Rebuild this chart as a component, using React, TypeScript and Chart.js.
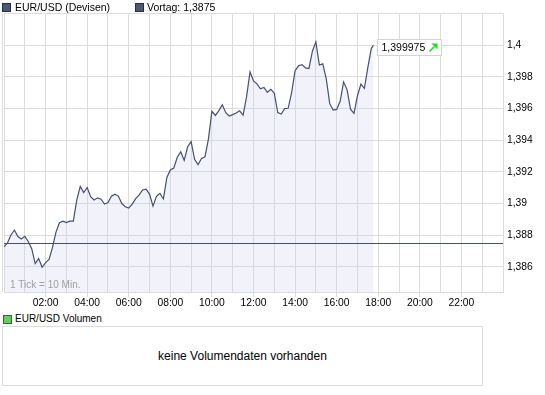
import React, { useEffect, useRef } from 'react';
import { Chart, registerables } from 'chart.js';

Chart.register(...registerables);

// ---------- data ----------
const seriesName = 'EUR/USD (Devisen)';
const prevCloseLabel = 'Vortag: 1,3875';
const volumeName = 'EUR/USD Volumen';
const volumeMessage = 'keine Volumendaten vorhanden';
const tickNote = '1 Tick = 10 Min.';

const prevClose = 1.3875;
const lastQuote = 1.399975;
const lastQuoteText = '1,399975';
const lastQuoteMinute = 1066;
const intervalMinutes = 10;

// 10-minute closes from 00:00
const prices: number[] = [
  1.38727, 1.38751, 1.38802, 1.38833, 1.38792, 1.38776, 1.38793, 1.38761, 1.38715, 1.38621,
  1.38653, 1.38598, 1.38627, 1.38648, 1.38723, 1.3882, 1.38879, 1.38889, 1.3888, 1.38889,
  1.38889, 1.39021, 1.39108, 1.39069, 1.39101, 1.39043, 1.39022, 1.39036, 1.39027, 1.38997,
  1.39007, 1.39046, 1.39059, 1.39047, 1.39, 1.3898, 1.38971, 1.38996, 1.39031, 1.39055,
  1.39086, 1.39091, 1.3906, 1.38984, 1.39045, 1.39064, 1.39029, 1.39165, 1.39212, 1.39224,
  1.39292, 1.39327, 1.39272, 1.39358, 1.39391, 1.39279, 1.39246, 1.39284, 1.39295, 1.39408,
  1.39582, 1.39556, 1.39586, 1.39623, 1.39573, 1.39552, 1.39561, 1.39571, 1.39585, 1.39558,
  1.39674, 1.3983, 1.39774, 1.39755, 1.39724, 1.39732, 1.39702, 1.39721, 1.39696, 1.39574,
  1.39565, 1.39599, 1.39601, 1.397, 1.39838, 1.39869, 1.39876, 1.39856, 1.39852, 1.39961,
  1.4002, 1.39874, 1.39881, 1.39786, 1.3963, 1.3959, 1.39594, 1.39645, 1.39767, 1.39719,
  1.39595, 1.39569, 1.3968, 1.39754, 1.39727, 1.39859, 1.39979,
];

const yTicks = [1.386, 1.388, 1.39, 1.392, 1.394, 1.396, 1.398, 1.4];
const yMin = 1.38442;
const yMax = 1.40202;
const xLabelHours = [2, 4, 6, 8, 10, 12, 14, 16, 18, 20, 22];
const dayMinutes = 1440;

// ---------- helpers ----------
const FONT = '"Liberation Sans", Arial, sans-serif';
const GRID = '#dcdcdc';

const fmtDE = (v: number) => String(parseFloat(v.toFixed(3))).replace('.', ',');
const fmtHour = (h: number) => (h < 10 ? '0' : '') + h + ':00';

const framePlugin = {
  id: 'frame',
  afterDatasetsDraw(chart: any) {
    const { ctx, chartArea: a, scales } = chart;
    const xs = scales.x;
    const ys = scales.y;
    ctx.save();
    // outer frame
    ctx.strokeStyle = GRID;
    ctx.lineWidth = 1;
    ctx.beginPath();
    ctx.moveTo(a.left, a.top + 0.5);
    ctx.lineTo(a.right, a.top + 0.5);
    ctx.moveTo(a.left - 1.5, a.top);
    ctx.lineTo(a.left - 1.5, a.bottom);
    ctx.stroke();

    // previous close line, pixel-aligned
    const pcY = Math.round(ys.getPixelForValue(prevClose)) + 0.5;
    ctx.strokeStyle = '#4a4f63';
    ctx.beginPath();
    ctx.moveTo(xs.getPixelForValue(0), pcY);
    ctx.lineTo(xs.getPixelForValue(dayMinutes), pcY);
    ctx.stroke();

    // tick note
    ctx.fillStyle = '#a0a0a0';
    ctx.font = '10px ' + FONT;
    ctx.textBaseline = 'middle';
    ctx.textAlign = 'left';
    ctx.fillText(tickNote, a.left + 6, a.bottom - 7);

    // last quote box
    const px = Math.round(xs.getPixelForValue(lastQuoteMinute)) + 4;
    const py = Math.round(ys.getPixelForValue(lastQuote));
    const bx = px + 0.5;
    const by = py - 6 + 0.5;
    const bw = 64;
    const bh = 16;
    ctx.fillStyle = '#ffffff';
    ctx.fillRect(bx, by, bw, bh);
    ctx.strokeStyle = '#d4d4d4';
    ctx.strokeRect(bx, by, bw, bh);
    ctx.fillStyle = '#000000';
    ctx.font = '10.5px ' + FONT;
    ctx.fillText(lastQuoteText, bx + 4, by + bh / 2 + 0.5);

    // green up arrow
    const ax = bx + 52;
    const ay = by + 12;
    ctx.strokeStyle = '#1ede1e';
    ctx.fillStyle = '#1ede1e';
    ctx.lineWidth = 1.6;
    ctx.beginPath();
    ctx.moveTo(ax, ay);
    ctx.lineTo(ax + 5, ay - 5);
    ctx.stroke();
    ctx.beginPath();
    ctx.moveTo(ax + 2, ay - 8);
    ctx.lineTo(ax + 8, ay - 8);
    ctx.lineTo(ax + 8, ay - 2);
    ctx.closePath();
    ctx.fill();
    ctx.restore();
  },
};

export default function App() {
  const ref = useRef<HTMLCanvasElement | null>(null);

  useEffect(() => {
    if (!ref.current) return;
    const points = prices.map((p, i) => ({ x: i * intervalMinutes, y: p }));
    points.push({ x: lastQuoteMinute, y: lastQuote });

    const chart = new Chart(ref.current, {
      type: 'line',
      data: {
        datasets: [
          {
            data: points,
            borderColor: '#475070',
            borderWidth: 1.2,
            backgroundColor: 'rgba(200,205,235,0.25)',
            fill: 'start',
            pointRadius: 0,
            tension: 0,
          },
        ],
      },
      options: {
        responsive: false,
        animation: false,
        devicePixelRatio: 1,
        layout: { padding: { top: 13, left: 4, right: 0, bottom: 0 } },
        plugins: { legend: { display: false }, tooltip: { enabled: false } },
        scales: {
          x: {
            type: 'linear',
            min: 0,
            max: dayMinutes,
            afterFit: (s: any) => {
              s.height = 21;
            },
            ticks: {
              stepSize: 60,
              autoSkip: false,
              maxRotation: 0,
              padding: 0,
              color: '#000',
              font: { family: FONT, size: 10.3 },
              callback: (v: any) => {
                const h = Number(v) / 60;
                return xLabelHours.includes(h) ? fmtHour(h) : '';
              },
            },
            grid: {
              color: GRID,
              tickLength: 5,
              tickColor: (c: any) =>
                c.tick && xLabelHours.includes(c.tick.value / 60) ? GRID : 'rgba(0,0,0,0)',
            },
            border: { color: GRID },
          },
          y: {
            type: 'linear',
            position: 'right',
            min: yMin,
            max: yMax,
            afterBuildTicks: (s: any) => {
              s.ticks = yTicks.map((v) => ({ value: v }));
            },
            afterFit: (s: any) => {
              s.width = 42;
            },
            ticks: {
              padding: 4,
              color: '#000',
              font: { family: FONT, size: 10.3 },
              callback: (v: any) => fmtDE(Number(v)),
            },
            grid: { color: GRID, drawTicks: false },
            border: { color: GRID },
          },
        },
      },
      plugins: [framePlugin],
    });
    return () => chart.destroy();
  }, []);

  const txt: React.CSSProperties = {
    position: 'absolute',
    fontFamily: FONT,
    fontSize: 10.5,
    lineHeight: '12px',
    color: '#000',
    whiteSpace: 'nowrap',
  };
  const sq = (bg: string, border: string, left: number, top: number): React.CSSProperties => ({
    position: 'absolute',
    left,
    top,
    width: 7,
    height: 7,
    background: bg,
    border: '1px solid ' + border,
  });

  return (
    <div style={{ position: 'absolute', left: 0, top: 0, width: 545, height: 395, background: '#fff', overflow: 'hidden' }}>
      <canvas ref={ref} width={545} height={313} style={{ position: 'absolute', left: 0, top: 0, display: 'block' }} />
      <div style={sq('#4c5675', '#2a2e3c', 2, 3)} />
      <div style={{ ...txt, left: 15, top: 1 }}>{seriesName}</div>
      <div style={sq('#4c5675', '#2a2e3c', 135, 3)} />
      <div style={{ ...txt, left: 147, top: 1 }}>{prevCloseLabel}</div>

      <div style={sq('#66cc66', '#2e6e2e', 3, 315)} />
      <div style={{ ...txt, fontSize: 10, left: 15, top: 313 }}>{volumeName}</div>
      <div
        style={{
          position: 'absolute',
          left: 2,
          top: 326,
          width: 481,
          height: 60,
          boxSizing: 'border-box',
          border: '1px solid ' + GRID,
        }}
      />
      <div style={{ ...txt, fontSize: 12, left: 2, width: 481, top: 349, textAlign: 'center', lineHeight: '14px' }}>
        {volumeMessage}
      </div>
    </div>
  );
}
